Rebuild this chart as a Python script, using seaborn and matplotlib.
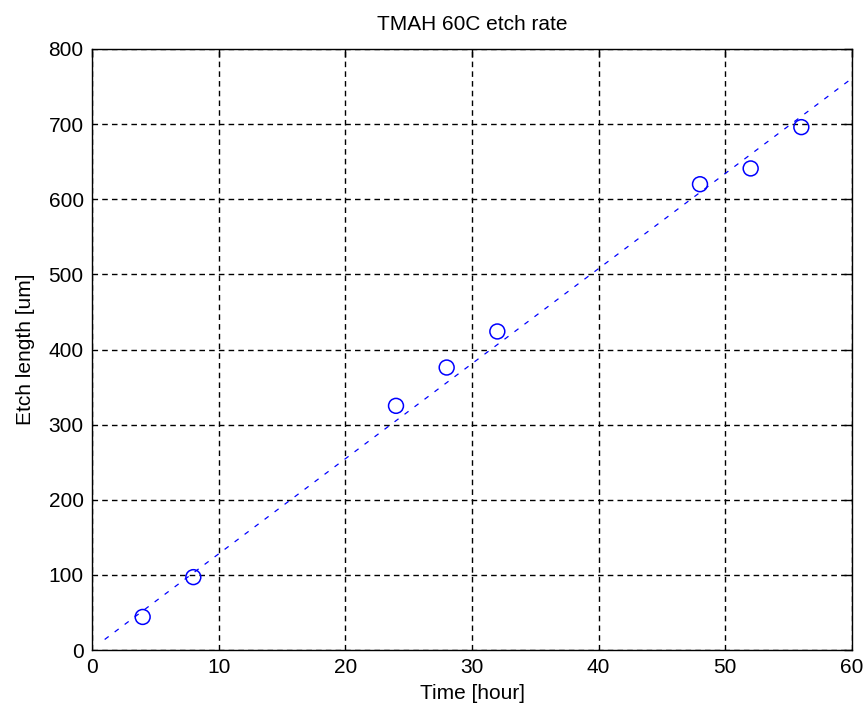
import matplotlib
matplotlib.use("Agg")
import matplotlib.pyplot as plt
import seaborn as sns
import pandas as pd

# Data
time_hours = [4, 8, 24, 28, 32, 48, 52, 56]
etch_length = [44, 97, 325, 376, 424, 620, 641, 696]
fit_x = [1, 60]
fit_y = [14, 761]

title = "TMAH 60C etch rate"
xlabel = "Time [hour]"
ylabel = "Etch length [um]"
xticks = [0, 10, 20, 30, 40, 50, 60]
yticks = [0, 100, 200, 300, 400, 500, 600, 700, 800]

sns.set_style("white")
plt.rcParams['font.family'] = ['Liberation Sans', 'DejaVu Sans']
plt.rcParams['text.color'] = 'black'
plt.rcParams['axes.labelcolor'] = 'black'

fig = plt.figure(figsize=(8.67, 7.15), dpi=100)
ax = fig.add_axes([92/867, 1-650/715, 760/867, 601/715])

pts = pd.DataFrame({"t": time_hours, "e": etch_length})
fit = pd.DataFrame({"t": fit_x, "e": fit_y})

sns.lineplot(data=fit, x="t", y="e", ax=ax, color=(0, 0, 1), linewidth=0.9,
             linestyle=(0, (4, 6)), zorder=3)
sns.scatterplot(data=pts, x="t", y="e", ax=ax, marker="o", s=115,
                facecolor="none", edgecolor=(0, 0, 1), linewidth=1.1, zorder=4)

ax.set_xlim(0, 60)
ax.set_ylim(0, 800)
ax.set_xticks(xticks)
ax.set_yticks(yticks)
ax.grid(True, color="black", linestyle=(0, (4, 3)), linewidth=1.0)
ax.tick_params(direction="in", length=6, width=1, top=True, right=True,
               labelsize=15, colors="black", pad=6)
for s in ax.spines.values():
    s.set_color("black")
    s.set_linewidth(1.0)
    s.set_visible(True)

ax.set_title(title, fontsize=15, pad=14, color="black")
ax.set_xlabel(xlabel, fontsize=15, labelpad=5, color="black")
ax.set_ylabel(ylabel, fontsize=15, labelpad=10, color="black")

fig.savefig("out.png", dpi=100, facecolor="white")
